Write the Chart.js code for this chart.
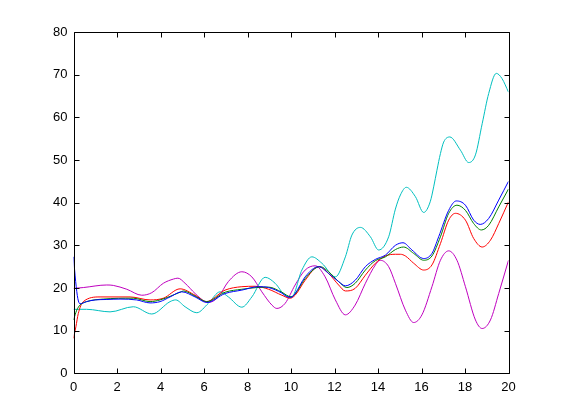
<!DOCTYPE html>
<html>
<head>
<meta charset="utf-8">
<script src="https://cdn.jsdelivr.net/npm/chart.js@4.4.1/dist/chart.umd.min.js"></script>
<style>
  html, body { margin: 0; padding: 0; background: #fff; }
  #wrap { width: 561px; height: 420px; position: relative; }
</style>
</head>
<body>
<div id="wrap"><canvas id="c" width="561" height="420"></canvas></div>
<script>
// X tick labels and Y tick labels
const xTicks = [0, 2, 4, 6, 8, 10, 12, 14, 16, 18, 20];
const yTicks = [0, 10, 20, 30, 40, 50, 60, 70, 80];

// Blue series
const blueT = [0, 0.1, 0.2, 0.3, 0.6, 1.0, 1.5, 2.14, 2.9, 3.52, 3.98, 4.44, 4.98, 5.59, 6.13, 6.97, 7.74, 8.5, 8.97, 9.58, 9.8, 10.0, 10.19, 10.65, 11.27, 11.73, 12.19, 12.5, 12.95, 13.42, 13.88, 14.34, 14.8, 15.15, 15.56, 16.1, 16.48, 16.79, 17.25, 17.6, 18.02, 18.4, 18.7, 19.09, 19.55, 20];
const blueV = [27.3, 21.5, 17.5, 16.3, 16.8, 17.2, 17.3, 17.4, 17.2, 16.5, 16.8, 17.9, 19.1, 17.9, 16.6, 18.7, 19.5, 20.3, 20.1, 18.8, 18.0, 17.8, 18.7, 22.6, 25.0, 23.4, 21.5, 20.5, 21.8, 25.0, 26.7, 27.7, 30.0, 30.6, 28.9, 26.9, 28.1, 32.0, 38.2, 40.4, 39.4, 35.9, 34.9, 36.3, 40.6, 45.0];

// Green series
const greenT = [0, 0.15, 0.3, 0.6, 1.37, 2.75, 3.52, 3.98, 4.9, 5.05, 5.59, 6.13, 6.97, 7.74, 8.43, 8.97, 9.58, 10.0, 10.19, 10.65, 11.34, 11.73, 12.19, 12.57, 12.95, 13.42, 13.88, 14.34, 14.8, 15.18, 15.64, 16.1, 16.48, 16.87, 17.25, 17.63, 18.02, 18.4, 18.75, 19.09, 19.55, 20];
const greenV = [12.5, 14.8, 16.0, 16.8, 17.4, 17.6, 16.8, 17.2, 19.0, 19.3, 18.1, 16.8, 19.0, 19.7, 20.1, 20.2, 19.0, 17.9, 18.6, 22.2, 25.0, 23.8, 21.5, 20.1, 21.1, 24.2, 26.4, 27.3, 29.0, 29.6, 28.1, 26.5, 27.5, 32.0, 37.5, 39.4, 38.2, 35.1, 33.6, 34.7, 39.0, 43.2];

// Red series
const redT = [0, 0.11, 0.22, 0.45, 1.22, 2.6, 3.52, 4.13, 4.9, 5.59, 6.1, 6.97, 7.74, 8.35, 8.97, 9.58, 9.96, 10.19, 10.65, 11.27, 11.73, 12.19, 12.5, 12.95, 13.42, 13.88, 14.34, 14.8, 15.03, 15.26, 15.64, 16.1, 16.48, 16.87, 17.25, 17.56, 18.02, 18.4, 18.79, 19.17, 19.55, 20];
const redV = [8.2, 10.9, 14.0, 16.8, 17.9, 17.9, 17.2, 17.6, 19.8, 18.3, 16.8, 19.5, 20.3, 20.4, 19.7, 18.3, 17.6, 18.3, 21.8, 25.0, 23.4, 20.7, 19.3, 19.9, 23.0, 25.8, 27.5, 27.9, 27.9, 27.5, 25.8, 24.2, 25.4, 30.4, 35.9, 37.5, 35.9, 31.6, 29.6, 31.2, 35.1, 40.2];

// Cyan series
const cyanT = [0, 0.6, 1.68, 2.75, 3.6, 4.44, 4.7, 5.13, 5.67, 6.2, 6.74, 7.12, 7.74, 8.2, 8.81, 9.27, 9.73, 10.04, 10.5, 10.96, 11.42, 12.04, 12.5, 12.8, 13.19, 13.65, 14.03, 14.49, 14.8, 15.03, 15.3, 15.72, 16.1, 16.4, 16.56, 16.71, 16.87, 17.02, 17.3, 17.79, 18.17, 18.48, 18.79, 19.09, 19.44, 19.7, 20];
const cyanV = [15.0, 15.0, 14.4, 15.6, 13.9, 16.8, 17.2, 15.6, 14.2, 16.4, 19.1, 17.9, 15.5, 17.9, 22.5, 21.1, 18.3, 18.0, 24.2, 27.3, 25.8, 22.6, 27.3, 32.4, 34.2, 32.0, 28.9, 32.0, 38.5, 41.8, 43.6, 41.4, 37.7, 40.2, 43.7, 47.6, 51.5, 54.2, 55.4, 52.3, 49.4, 51.2, 58.5, 65.6, 70.3, 69.1, 65.9];

// Magenta series
const magT = [0, 0.45, 1.53, 1.83, 2.45, 3.14, 3.6, 4.13, 4.6, 4.8, 5.13, 5.59, 6.05, 6.2, 6.66, 7.12, 7.74, 8.2, 8.66, 9.12, 9.35, 9.73, 10.19, 10.65, 11.11, 11.57, 12.04, 12.5, 12.95, 13.42, 13.88, 14.1, 14.49, 14.8, 15.26, 15.64, 16.02, 16.48, 16.87, 17.25, 17.63, 18.02, 18.48, 18.79, 19.17, 19.55, 20];
const magV = [19.9, 20.1, 20.7, 20.6, 19.7, 18.3, 18.9, 21.1, 22.1, 22.3, 21.1, 18.7, 16.8, 16.6, 17.9, 21.5, 23.8, 22.6, 19.1, 16.0, 15.2, 16.4, 20.7, 24.2, 25.2, 22.6, 17.2, 13.7, 16.0, 21.1, 25.4, 26.5, 25.0, 21.1, 14.8, 11.9, 13.7, 20.3, 26.5, 28.7, 26.5, 20.3, 12.5, 10.5, 12.5, 18.7, 26.5];

function pts(t, v) { return t.map((x, i) => ({ x: x, y: v[i] })); }

function ds(t, v, color) {
  return {
    data: pts(t, v),
    borderColor: color,
    backgroundColor: color,
    borderWidth: 1,
    pointRadius: 0,
    fill: false,
    tension: 0.4,
    cubicInterpolationMode: 'monotone'
  };
}

const FONT = { family: '"Liberation Sans Narrow", "Liberation Sans", Arial, sans-serif', size: 13 };

const boxTicks = {
  id: 'boxTicks',
  afterDraw(chart) {
    const ctx = chart.ctx;
    const a = chart.chartArea;
    const xs = chart.scales.x, ys = chart.scales.y;
    const L = 5;
    ctx.save();
    ctx.strokeStyle = '#000';
    ctx.lineWidth = 1;
    ctx.beginPath();
    const l = Math.round(a.left) + 0.5, r = Math.round(a.right) + 0.5;
    const t = Math.round(a.top) + 0.5, b = Math.round(a.bottom) + 0.5;
    ctx.rect(l, t, r - l, b - t);
    xTicks.forEach(v => {
      const px = Math.round(xs.getPixelForValue(v)) + 0.5;
      ctx.moveTo(px, b); ctx.lineTo(px, b - L);
      ctx.moveTo(px, t); ctx.lineTo(px, t + L);
    });
    yTicks.forEach(v => {
      const py = Math.round(ys.getPixelForValue(v)) + 0.5;
      ctx.moveTo(l, py); ctx.lineTo(l + L, py);
      ctx.moveTo(r, py); ctx.lineTo(r - L, py);
    });
    ctx.stroke();
    ctx.restore();
  }
};

new Chart(document.getElementById('c'), {
  type: 'line',
  data: {
    datasets: [
      ds(blueT, blueV, '#0000ff'),
      ds(greenT, greenV, '#008000'),
      ds(redT, redV, '#ff0000'),
      ds(cyanT, cyanV, '#00bfbf'),
      ds(magT, magV, '#bf00bf')
    ]
  },
  options: {
    responsive: false,
    animation: false,
    devicePixelRatio: 1,
    layout: { padding: { left: 0, top: 32, right: 52.5, bottom: 0 } },
    plugins: { legend: { display: false }, tooltip: { enabled: false } },
    scales: {
      x: {
        type: 'linear',
        min: 0, max: 20,
        grid: { display: false, drawTicks: false },
        border: { display: false },
        afterBuildTicks: s => { s.ticks = xTicks.map(v => ({ value: v })); },
        afterFit: s => { s.height = 46.7; },
        ticks: { color: '#000', font: FONT, padding: 6, maxRotation: 0, autoSkip: false }
      },
      y: {
        min: 0, max: 80,
        grid: { display: false, drawTicks: false },
        border: { display: false },
        afterBuildTicks: s => { s.ticks = yTicks.map(v => ({ value: v })); },
        afterFit: s => { s.width = 73.5; },
        ticks: { color: '#000', font: FONT, padding: 6, autoSkip: false }
      }
    }
  },
  plugins: [boxTicks]
});
</script>
</body>
</html>
